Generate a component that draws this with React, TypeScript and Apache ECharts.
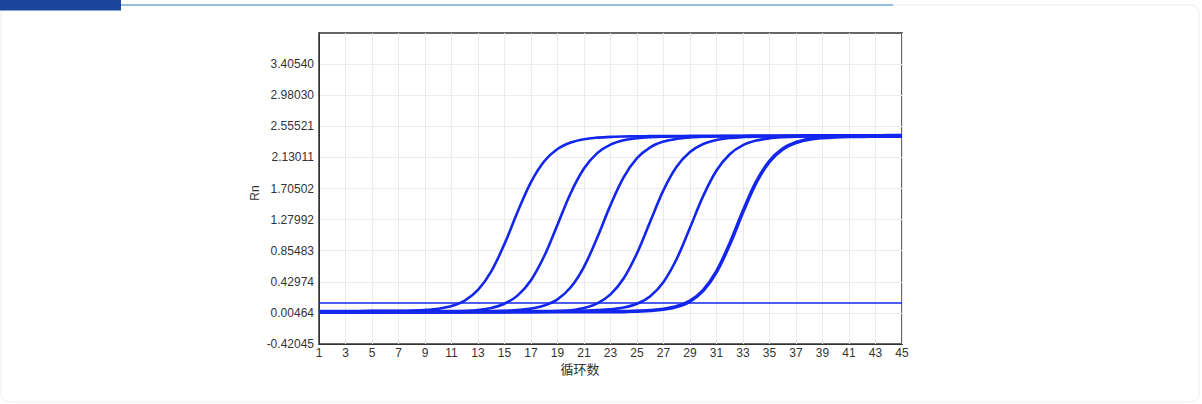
import React, { useEffect, useRef } from "react";
import * as echarts from "echarts";

const cycles = [
  "1","2","3","4","5","6","7","8","9","10","11","12","13","14","15","16","17","18","19","20","21","22","23",
  "24","25","26","27","28","29","30","31","32","33","34","35","36","37","38","39","40","41","42","43","44","45",
];

const yMin = -0.42045;
const yMax = 3.8305;
const yTicks = [-0.42045, 0.00464, 0.42974, 0.85483, 1.27992, 1.70502, 2.13011, 2.55521, 2.9803, 3.4054];
const threshold = 0.15;

const curveA = [
  0.030, 0.030, 0.031, 0.031, 0.032, 0.032, 0.033, 0.037, 0.045, 0.062, 0.098, 0.172, 0.318, 0.572, 0.948,
  1.390, 1.792, 2.077, 2.245, 2.334, 2.379, 2.400, 2.411, 2.416, 2.419, 2.421, 2.422, 2.423, 2.424, 2.425,
  2.426, 2.427, 2.427, 2.428, 2.429, 2.429, 2.430, 2.431, 2.431, 2.432, 2.432, 2.433, 2.433, 2.434, 2.435,
];
const curveB = [
  0.014, 0.014, 0.015, 0.015, 0.015, 0.016, 0.016, 0.017, 0.017, 0.019, 0.022, 0.030, 0.043, 0.072, 0.130,
  0.244, 0.452, 0.782, 1.210, 1.644, 1.978, 2.189, 2.305, 2.364, 2.393, 2.407, 2.414, 2.417, 2.418, 2.419,
  2.420, 2.421, 2.422, 2.423, 2.423, 2.424, 2.425, 2.425, 2.426, 2.427, 2.427, 2.428, 2.428, 2.429, 2.430,
];
const curveC = [
  0.024, 0.024, 0.024, 0.025, 0.025, 0.025, 0.025, 0.026, 0.026, 0.026, 0.026, 0.027, 0.027, 0.028, 0.033,
  0.042, 0.063, 0.105, 0.190, 0.355, 0.635, 1.034, 1.478, 1.860, 2.119, 2.268, 2.346, 2.384, 2.403, 2.412,
  2.416, 2.417, 2.418, 2.419, 2.420, 2.420, 2.421, 2.422, 2.422, 2.423, 2.423, 2.424, 2.424, 2.425, 2.425,
];
const curveD = [
  0.010, 0.010, 0.010, 0.011, 0.011, 0.011, 0.011, 0.012, 0.012, 0.012, 0.012, 0.013, 0.013, 0.013, 0.014,
  0.014, 0.015, 0.018, 0.026, 0.041, 0.072, 0.135, 0.258, 0.478, 0.821, 1.255, 1.683, 2.005, 2.204, 2.313,
  2.368, 2.395, 2.408, 2.414, 2.417, 2.418, 2.419, 2.420, 2.420, 2.421, 2.422, 2.422, 2.423, 2.424, 2.424,
];
const curveE = [
  0.028, 0.028, 0.028, 0.028, 0.029, 0.029, 0.029, 0.029, 0.029, 0.030, 0.030, 0.030, 0.030, 0.030, 0.031,
  0.031, 0.031, 0.031, 0.032, 0.032, 0.037, 0.043, 0.054, 0.078, 0.129, 0.233, 0.428, 0.745, 1.168, 1.604,
  1.951, 2.173, 2.297, 2.360, 2.391, 2.406, 2.414, 2.416, 2.417, 2.418, 2.418, 2.419, 2.419, 2.420, 2.420,
];
const curveF = [
  0.017, 0.017, 0.017, 0.017, 0.018, 0.018, 0.018, 0.018, 0.018, 0.018, 0.019, 0.019, 0.019, 0.019, 0.019,
  0.020, 0.020, 0.020, 0.020, 0.021, 0.021, 0.021, 0.022, 0.022, 0.029, 0.037, 0.054, 0.091, 0.166, 0.313,
  0.569, 0.947, 1.390, 1.793, 2.077, 2.245, 2.334, 2.379, 2.400, 2.411, 2.416, 2.418, 2.419, 2.420, 2.421,
];

const curves = [
  { name: "A", data: curveA, width: 2.6 },
  { name: "B", data: curveB, width: 2.6 },
  { name: "C", data: curveC, width: 2.6 },
  { name: "D", data: curveD, width: 2.6 },
  { name: "E", data: curveE, width: 2.6 },
  { name: "F", data: curveF, width: 3.6 },
];

const BLUE = "#1226ee";
const LABEL_FONT = "'Liberation Sans', Arial, sans-serif";

export default function App() {
  const ref = useRef<HTMLDivElement>(null);

  useEffect(() => {
    if (!ref.current) return;
    const chart = echarts.init(ref.current, undefined, { renderer: "svg" });

    const series: any[] = curves.map((c, i) => ({
      name: c.name,
      type: "line",
      data: c.data,
      showSymbol: false,
      symbol: "none",
      smooth: 0.35,
      lineStyle: { color: BLUE, width: c.width },
      itemStyle: { color: BLUE },
      z: 3,
      markLine:
        i === 0
          ? {
              silent: true,
              symbol: "none",
              label: { show: false },
              lineStyle: { color: BLUE, width: 1.5, type: "solid" },
              data: [{ yAxis: threshold }],
            }
          : undefined,
    }));

    chart.setOption({
      animation: false,
      backgroundColor: "#ffffff",
      grid: {
        left: 319,
        right: 300,
        top: 33,
        bottom: 60,
        show: true,
        borderColor: "#666666",
        borderWidth: 2,
        backgroundColor: "transparent",
        containLabel: false,
      },
      xAxis: {
        type: "category",
        data: cycles,
        boundaryGap: false,
        axisLine: { show: true, onZero: false, lineStyle: { color: "#333333", width: 1 } },
        axisTick: { show: false },
        axisLabel: {
          interval: 1,
          color: "#333333",
          fontSize: 12,
          fontFamily: LABEL_FONT,
          margin: 3,
        },
        splitLine: { show: true, interval: 1, lineStyle: { color: "#ebebeb", width: 1 } },
      },
      yAxis: {
        type: "value",
        min: yMin,
        max: yMax,
        axisLine: { show: true, onZero: false, lineStyle: { color: "#333333", width: 1 } },
        axisTick: { show: false, customValues: yTicks },
        axisLabel: {
          customValues: yTicks,
          color: "#333333",
          fontSize: 12,
          fontFamily: LABEL_FONT,
          margin: 5,
          formatter: (v: number) => v.toFixed(5),
        },
        splitLine: { show: true, lineStyle: { color: "#ebebeb", width: 1 } },
      },
      graphic: [
        {
          type: "rect",
          z: -10,
          shape: { x: 1, y: 5, width: 1198, height: 397, r: 8 },
          style: { fill: "#ffffff", stroke: "#ececec", lineWidth: 1 },
        },
        {
          type: "line",
          z: 10,
          shape: { x1: 121, y1: 5, x2: 893, y2: 5 },
          style: { stroke: "#74a9dc", lineWidth: 1.5 },
        },
        {
          type: "rect",
          z: 10,
          shape: { x: 0, y: 0, width: 121, height: 10.5 },
          style: { fill: "#1b459d" },
        },
        {
          type: "text",
          x: 255,
          y: 193,
          rotation: Math.PI / 2,
          style: {
            text: "Rn",
            fill: "#333333",
            font: "12px 'Liberation Sans', Arial, sans-serif",
            align: "center",
            verticalAlign: "middle",
          },
        },
        {
          type: "text",
          x: 580,
          y: 368,
          style: {
            text: "循环数",
            fill: "#333333",
            font: "13px 'Noto Sans CJK SC', sans-serif",
            align: "center",
            verticalAlign: "middle",
          },
        },
      ],
      series,
    });

    return () => chart.dispose();
  }, []);

  return (
    <div
      ref={ref}
      style={{ position: "fixed", left: 0, top: 0, width: 1202, height: 404, background: "#ffffff" }}
    />
  );
}
